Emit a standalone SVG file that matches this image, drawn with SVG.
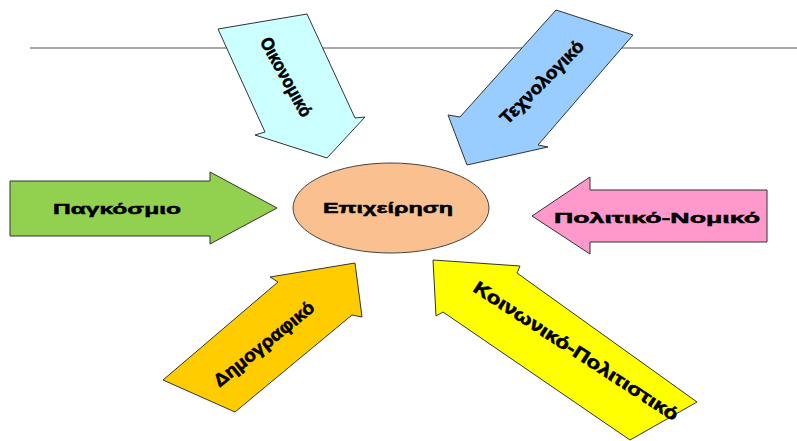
<svg xmlns="http://www.w3.org/2000/svg" width="797" height="441" viewBox="0 0 797 441">
<style>
.arr{stroke:#333;stroke-width:1;stroke-linejoin:miter}
.lbl{font-family:"Liberation Sans",Arial,sans-serif;font-weight:bold;font-size:15px;fill:#000;stroke:#000;stroke-width:0.5;text-anchor:middle;dominant-baseline:central}
.rot{font-size:18px;stroke-width:0.6}
</style>
<rect width="797" height="441" fill="#fff"/>
<line x1="30" y1="48" x2="797" y2="48" stroke="#555" stroke-width="1.2"/>
<g id="oikonomiko">
<polygon class="arr" fill="#CCFFFF" points="218,29 307,14 355,118 365,117 327,158 255,135 265,132"/>
<text class="lbl rot" font-size="17" transform="translate(286,77) rotate(61)" textLength="88" lengthAdjust="spacingAndGlyphs">Οικονομικό</text>
</g>
<g id="technologiko">
<polygon class="arr" fill="#99CCFF" points="556,10 633,35 538,145 548,147 467,165 448,115 460,117"/>
<text class="lbl rot" transform="translate(542,82) rotate(-45)" textLength="110" lengthAdjust="spacingAndGlyphs">Τεχνολογικό</text>
</g>
<g id="pagkosmio">
<polygon class="arr" fill="#92D050" points="10,181 210,181 210,172 277,208 210,244 210,236 10,236"/>
<text class="lbl" x="117" y="208" textLength="128" lengthAdjust="spacingAndGlyphs">Παγκόσμιο</text>
</g>
<g id="politiko-nomiko">
<polygon class="arr" fill="#FF99CC" points="532,216 590,177 590,190 767,190 767,242 590,242 590,254"/>
<text class="lbl" x="657" y="217" font-size="16" textLength="206" lengthAdjust="spacingAndGlyphs">Πολιτικό-Νομικό</text>
</g>
<g id="epicheirisi">
<ellipse cx="391" cy="208" rx="98" ry="45" fill="#FAC090" stroke="#444" stroke-width="1"/>
<text class="lbl" x="388" y="207" font-size="16" textLength="130" lengthAdjust="spacingAndGlyphs">Επιχείρηση</text>
</g>
<g id="dimografiko">
<polygon class="arr" fill="#FFCC00" points="163,380 278,282 270,277 355,263 362,317 352,315 235,412"/>
<text class="lbl rot" transform="translate(264,344) rotate(-39)" textLength="124" lengthAdjust="spacingAndGlyphs">Δημογραφικό</text>
</g>
<g id="koinoniko-politistiko">
<polygon class="arr" fill="#FFFF00" points="433,260 520,266 517,273 697,402 630,440 443,312 436,316"/>
<text class="lbl rot" transform="translate(576,351) rotate(33)" textLength="240" lengthAdjust="spacingAndGlyphs">Κοινωνικό-Πολιτιστικό</text>
</g>
</svg>
